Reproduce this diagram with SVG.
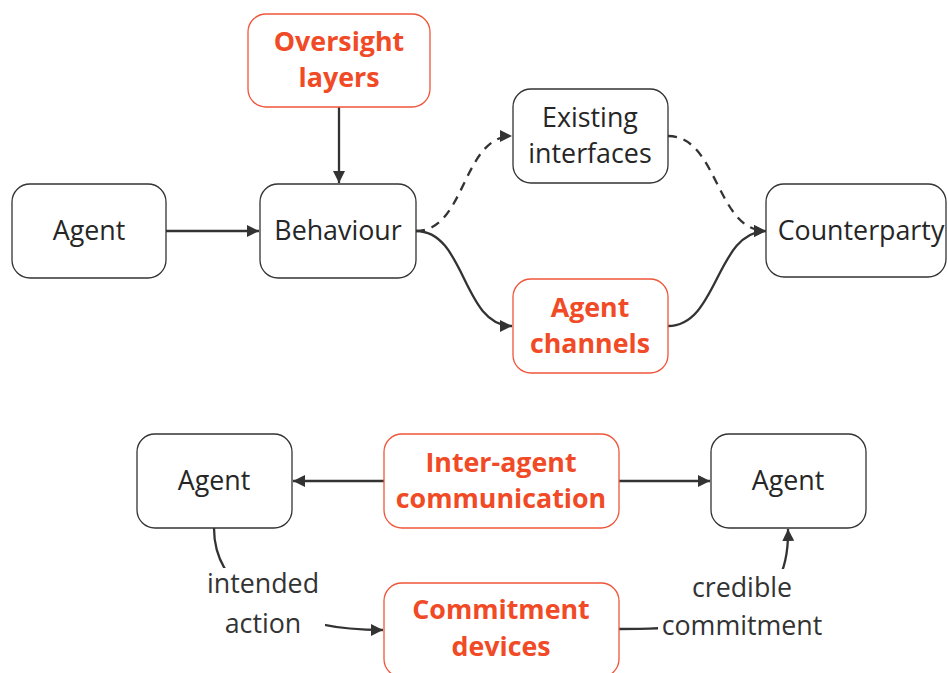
<svg xmlns="http://www.w3.org/2000/svg" width="948" height="673" viewBox="0 0 948 673">
<defs>
<marker id="ah" viewBox="0 0 10 10" refX="10" refY="5" markerWidth="12" markerHeight="12" markerUnits="userSpaceOnUse" orient="auto">
<path d="M0,0 L10,5 L0,10 z" fill="#333333"/>
</marker>
<style>
.n rect{fill:#ffffff;stroke:#333333;stroke-width:1.3}
.r rect{fill:#ffffff;stroke:#f0553a;stroke-width:1.3}
.n text{font-family:"Open Sans","Liberation Sans",sans-serif;font-size:26.8px;fill:#262626;text-anchor:middle}
.r text{font-family:"Open Sans","Liberation Sans",sans-serif;font-size:26.8px;font-weight:bold;fill:#f04a26;text-anchor:middle}
.c path{fill:none;stroke:#333333;stroke-width:2.3}
.c .d{stroke-dasharray:9 7}
.lbl{font-family:"Open Sans","Liberation Sans",sans-serif;font-size:26.8px;fill:#333333;text-anchor:middle}
</style>
</defs>
<rect width="948" height="673" fill="#ffffff"/>
<g class="c" id="connectors">
<path d="M339,107 L339,183" marker-end="url(#ah)"/>
<path d="M166,231 L259,231" marker-end="url(#ah)"/>
<path class="d" d="M416,231 C466,231 462,136 512,136" marker-end="url(#ah)"/>
<path d="M416,231 C466,231 462,326 512,326" marker-end="url(#ah)"/>
<path class="d" d="M668,136 C718,136 716,231 766,231" marker-end="url(#ah)"/>
<path d="M668,326 C718,326 716,231 766,231" marker-end="url(#ah)"/>
<path d="M384,481 L293,481" marker-end="url(#ah)"/>
<path d="M619,481 L710,481" marker-end="url(#ah)"/>
<path d="M214,528 C214,600 300,630 383,630" marker-end="url(#ah)"/>
<path d="M619,629 C720,629 790,620 788,529" marker-end="url(#ah)"/>
</g>
<g id="labels">
<rect x="203" y="568" width="122" height="72" fill="#ffffff"/>
<text class="lbl" x="263" y="593">intended</text>
<text class="lbl" x="263" y="633">action</text>
<rect x="658" y="569" width="170" height="72" fill="#ffffff"/>
<text class="lbl" x="742" y="597">credible</text>
<text class="lbl" x="742" y="635">commitment</text>
</g>
<g id="oversight" class="r"><rect x="248" y="14" width="182" height="93" rx="18"/><text x="339" y="51">Oversight</text><text x="339" y="87">layers</text></g>
<g id="agent1" class="n"><rect x="12" y="184" width="154" height="94" rx="18"/><text x="89" y="240">Agent</text></g>
<g id="behaviour" class="n"><rect x="260" y="184" width="156" height="94" rx="18"/><text x="338" y="240">Behaviour</text></g>
<g id="existing" class="n"><rect x="513" y="89" width="155" height="94" rx="18"/><text x="590" y="127">Existing</text><text x="590" y="163">interfaces</text></g>
<g id="channels" class="r"><rect x="513" y="279" width="155" height="94" rx="18"/><text x="590" y="317">Agent</text><text x="590" y="353">channels</text></g>
<g id="counterparty" class="n"><rect x="766" y="184" width="180" height="93" rx="18"/><text x="861" y="240">Counterparty</text></g>
<g id="agent2" class="n"><rect x="137" y="434" width="155" height="94" rx="18"/><text x="214" y="490">Agent</text></g>
<g id="interagent" class="r"><rect x="384" y="434" width="235" height="94" rx="18"/><text x="501" y="472">Inter-agent</text><text x="501" y="508">communication</text></g>
<g id="agent3" class="n"><rect x="711" y="434" width="155" height="94" rx="18"/><text x="788" y="490">Agent</text></g>
<g id="commitment" class="r"><rect x="384" y="583" width="235" height="94" rx="18"/><text x="501" y="619">Commitment</text><text x="501" y="656">devices</text></g>
</svg>
